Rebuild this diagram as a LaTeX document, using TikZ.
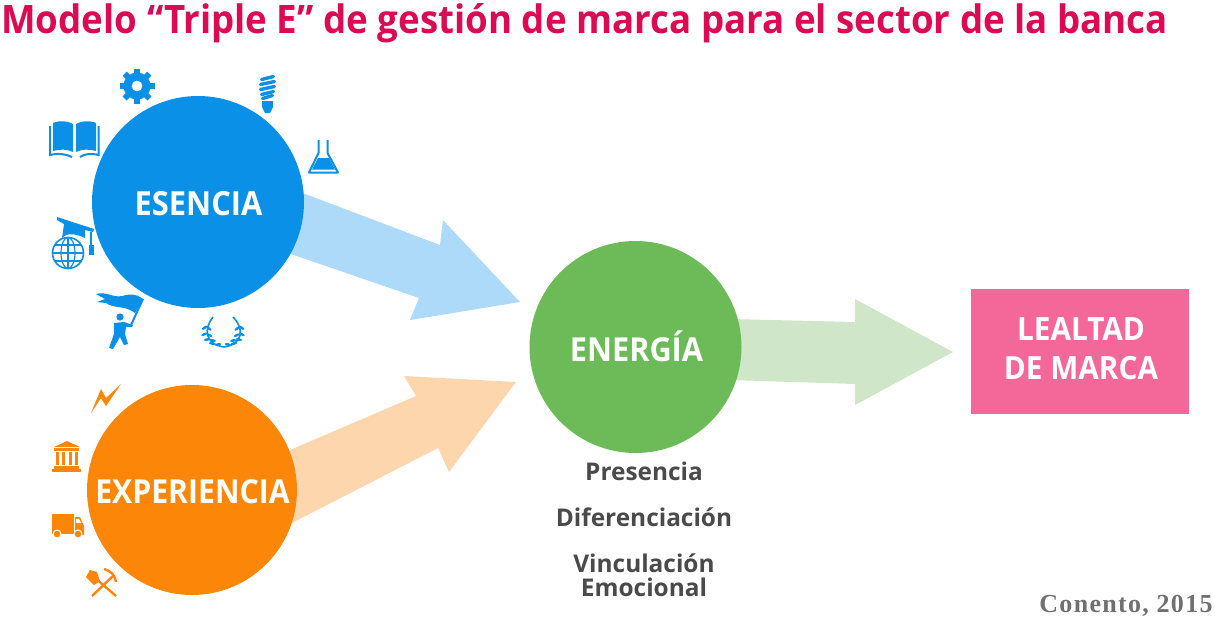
\documentclass[tikz,border=0pt]{standalone}
\usepackage{fontspec}
\setmainfont{Open Sans}
\newfontfamily\serifc{Liberation Serif}
\newfontfamily\narrowa[FakeStretch=0.93]{Open Sans}
\newfontfamily\narrowt[FakeStretch=0.936]{Open Sans}
\newfontfamily\narrowb[FakeStretch=0.915]{Open Sans}
\definecolor{tit}{HTML}{DC0A52}
\definecolor{blu}{HTML}{0A90E6}
\definecolor{lblu}{HTML}{ADDAF8}
\definecolor{ora}{HTML}{FC8608}
\definecolor{lora}{HTML}{FDD6AE}
\definecolor{gre}{HTML}{6DBB58}
\definecolor{lgre}{HTML}{CFE7C8}
\definecolor{pin}{HTML}{F36898}
\definecolor{gry}{HTML}{4A4A4A}
\definecolor{gry2}{HTML}{707070}
\tikzset{
 x=0.5pt,y=-0.5pt,
 disc/.style={circle,inner sep=0pt,minimum size=106pt,text=white},
 disctext/.style={text=white,inner sep=0pt},
 sub/.style={text=gry,font=\fontsize{12.2}{14}\selectfont\bfseries,inner sep=0pt},
 bl/.style={draw=blu,fill=none,line width=1pt},
}
\begin{document}
\begin{tikzpicture}
\useasboundingbox (0,0) rectangle (1215,622);
\node[anchor=west,inner sep=0pt,text=tit] (title) at (1,23) {\narrowt\bfseries\fontsize{19.6}{24}\selectfont Modelo “Triple E” de gestión de marca para el sector de la banca};
% block arrows
\fill[lblu] (300,192) -- (440,245) -- (443,220) -- (520,302) -- (410,320) -- (419,298) -- (285,252) -- cycle;
\fill[lora] (290,450) -- (416,396) -- (404,376) -- (516,382) -- (449,472) -- (438,448) -- (290,524) -- cycle;
\fill[lgre] (730,319) -- (855,322) -- (855,299) -- (953,352) -- (855,405) -- (855,384) -- (730,380) -- cycle;
% discs
\node[disc,fill=blu] (esencia) at (198,202) {};
\node[disc,fill=ora,minimum size=105pt] (experiencia) at (192,490) {};
\node[disc,fill=gre] (energia) at (635.5,347) {};
\node[disctext] (tesencia) at (198.5,204) {\narrowa\bfseries\fontsize{16.6}{20}\selectfont ESENCIA};
\node[disctext] (texperiencia) at (192.5,492) {\narrowb\bfseries\fontsize{16.5}{20}\selectfont EXPERIENCIA};
\node[disctext] (tenergia) at (636.5,346.5) {\narrowa\bfseries\fontsize{16.5}{20}\selectfont ENERGÍA};
\node[fill=pin,minimum width=109pt,minimum height=62.5pt,inner sep=0pt] (lealtad) at (1080,351.5) {};
\node[inner sep=0pt,align=center,text=white,font=\narrowa\bfseries\fontsize{16}{19.5}\selectfont] (tlealtad) at (1081,348.5) {LEALTAD\\DE MARCA};
\node[sub] (presencia) at (644,471) {Presencia};
\node[sub] (dif) at (644,517) {Diferenciación};
\node[sub] (vinc) at (644,563) {Vinculación};
\node[sub] (emo) at (644,587) {Emocional};
\node[anchor=east,inner sep=0pt,text=gry2,font=\serifc\bfseries\fontsize{13}{15}\selectfont,] (conento) at (1213,606) {\addfontfeature{LetterSpace=5}Conento, 2015};
% gear
\fill[blu,even odd rule] (137,86) circle (5.5) (137,86) circle (13.5);
\foreach \a in {0,45,...,315}{\fill[blu,rotate around={\a:(137,86)}] (134,68.5) rectangle (140,75);}
% bulb
\foreach \yy/\w in {78/6,83/7,88/7,93/6,97/5}{\draw[blu,line width=1.7pt,line cap=round] (267.5-\w,\yy+1.5) -- (267.5+\w,\yy-1.5);}
\fill[blu] (262,101) -- (273,101) -- (273,107) -- (270,113) -- (265,113) -- (262,107) -- cycle;
% flask
\draw[bl,line join=round] (318.5,140) -- (318.5,153) -- (309,172.5) -- (338,172.5) -- (327.5,153) -- (327.5,140);
\fill[blu] (318,158) -- (329,158) -- (335,169.5) -- (312,169.5) -- cycle;
% book
\fill[blu] (53,123) .. controls (60,120) and (68,121) .. (73,124) -- (73,152) .. controls (67,149) and (60,149) .. (53,151) -- cycle;
\fill[blu] (76,124) .. controls (81,121) and (89,120) .. (96,123) -- (96,151) .. controls (89,149) and (82,149) .. (76,152) -- cycle;
\draw[blu,line width=1pt] (50,126) -- (50,155) .. controls (58,153) and (66,154) .. (72,157);
\draw[blu,line width=1pt] (98.5,126) -- (98.5,155) .. controls (91,153) and (84,154) .. (80,157);
% globe and cap
\draw[blu,line width=0.8pt] (68,253) circle (15.5);
\draw[blu,line width=0.6pt] (68,253) ellipse (7 and 15.5);
\draw[blu,line width=0.6pt] (68,237.5) -- (68,268.5) (53,253) -- (83,253) (55,245) -- (81,245) (55,261) -- (81,261);
\fill[blu] (57,217) -- (94,229) -- (93,232) -- (85,230) -- (85,238) .. controls (75,233) and (66,233) .. (62,238) -- (64,224) -- (57,220) -- cycle;
\fill[blu] (90,232) rectangle (92,245);
\fill[blu] (89,245) rectangle (94,255);
% flag and climber
\draw[blu,line width=1pt] (143,299) -- (131,325);
\fill[blu] (96,294) .. controls (106,291) and (113,298) .. (122,296) .. controls (130,294) and (135,293) .. (143,299) -- (135,313) .. controls (125,305) and (114,309) .. (106,303) -- (97,302) -- (105,299) -- cycle;
\fill[blu] (120,317) circle (3.6);
\fill[blu] (114,323) -- (124,322) -- (133,325) -- (132,327) -- (126,327) -- (125,334) -- (128,344) -- (124,345) -- (120,337) -- (113,349) -- (109,348) -- (114,334) -- cycle;
% laurel
\draw[blu,line width=0.8pt] (213,317) .. controls (204,328) and (204,344) .. (224,347) .. controls (244,344) and (244,328) .. (233,317);
\foreach \p/\r/\t in {207/326/35,207/333/25,210/339/10,215/344/-10}{\fill[blu,rotate around={\t:(\p,\r)}] (\p-3,\r) ellipse (3.2 and 1.3); \fill[blu,rotate around={-\t:(\p,\r)}] (\p+3,\r+1) ellipse (3.2 and 1.3);}
\foreach \p/\r/\t in {239/326/-35,239/333/-25,236/339/-10,231/344/10}{\fill[blu,rotate around={\t:(\p,\r)}] (\p+3,\r) ellipse (3.2 and 1.3); \fill[blu,rotate around={-\t:(\p,\r)}] (\p-3,\r+1) ellipse (3.2 and 1.3);}
% lightning
\fill[ora] (91,413) -- (101,389) -- (106,398) -- (121,384) -- (106,406) -- (101,398) -- cycle;
% bank
\fill[ora] (67,441) -- (80,447) -- (54,447) -- cycle;
\fill[ora] (54,448) rectangle (79,451);
\foreach \xx in {56,62,69,75}{\fill[ora] (\xx,452) rectangle (\xx+3,465);}
\fill[ora] (54,466) rectangle (79,468.5);
\fill[ora] (52,469) rectangle (81,472);
% truck
\fill[ora] (52,514) rectangle (74,534);
\fill[ora] (75,517) -- (80,517) -- (84,526) -- (84,535) -- (75,535) -- cycle;
\fill[white] (76,519) -- (79,519) -- (81.5,523) -- (76,523) -- cycle;
\fill[ora,draw=white,line width=0.5pt] (57,534) circle (4);
\fill[ora,draw=white,line width=0.5pt] (78,534) circle (4);
% pick & shovel
\draw[ora,line width=1.2pt] (92,596) -- (113,576);
\draw[ora,line width=1.2pt] (104,569) .. controls (111,571) and (115,575) .. (116,582);
\draw[ora,line width=1.2pt] (116,596) -- (95,578);
\fill[ora] (86,577) -- (90,570) -- (97,572) -- (100,581) -- (94,585) -- cycle;
\end{tikzpicture}
\end{document}
